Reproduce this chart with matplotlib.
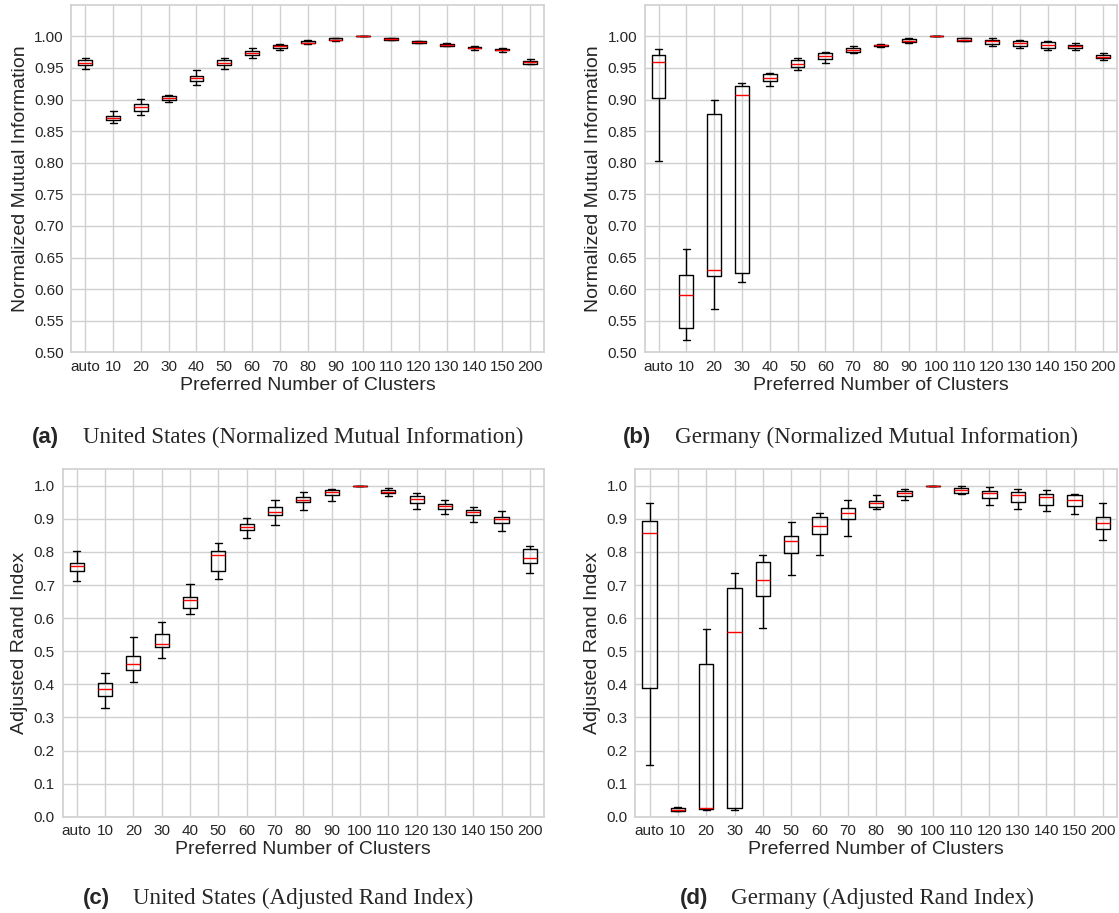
import matplotlib
matplotlib.use("Agg")
import matplotlib.pyplot as plt
import seaborn as sns
import numpy as np

categories = ["auto", "10", "20", "30", "40", "50", "60", "70", "80", "90",
              "100", "110", "120", "130", "140", "150", "200"]

# (a) United States NMI
us_nmi_med = [0.958, 0.871, 0.888, 0.903, 0.934, 0.958, 0.974, 0.984, 0.990, 0.995, 1.0, 0.996, 0.991, 0.987, 0.982, 0.979, 0.959]
us_nmi_q1  = [0.955, 0.868, 0.882, 0.900, 0.930, 0.954, 0.971, 0.982, 0.989, 0.994, 1.0, 0.995, 0.990, 0.985, 0.981, 0.978, 0.957]
us_nmi_q3  = [0.962, 0.874, 0.893, 0.905, 0.937, 0.962, 0.977, 0.986, 0.992, 0.997, 1.0, 0.997, 0.992, 0.988, 0.983, 0.980, 0.961]
us_nmi_lo  = [0.948, 0.863, 0.876, 0.896, 0.923, 0.948, 0.966, 0.979, 0.988, 0.993, 1.0, 0.994, 0.989, 0.984, 0.979, 0.976, 0.956]
us_nmi_hi  = [0.966, 0.882, 0.901, 0.907, 0.946, 0.966, 0.981, 0.988, 0.994, 0.997, 1.0, 0.998, 0.993, 0.989, 0.984, 0.981, 0.964]

# (b) Germany NMI
de_nmi_med = [0.960, 0.590, 0.630, 0.907, 0.934, 0.957, 0.969, 0.978, 0.986, 0.993, 1.0, 0.995, 0.992, 0.990, 0.987, 0.984, 0.968]
de_nmi_q1  = [0.902, 0.538, 0.620, 0.625, 0.929, 0.952, 0.964, 0.975, 0.984, 0.991, 1.0, 0.993, 0.988, 0.985, 0.982, 0.981, 0.966]
de_nmi_q3  = [0.971, 0.622, 0.877, 0.922, 0.940, 0.962, 0.974, 0.981, 0.987, 0.996, 1.0, 0.997, 0.995, 0.993, 0.991, 0.987, 0.970]
de_nmi_lo  = [0.802, 0.519, 0.569, 0.612, 0.921, 0.947, 0.958, 0.973, 0.983, 0.990, 1.0, 0.992, 0.985, 0.982, 0.979, 0.978, 0.963]
de_nmi_hi  = [0.980, 0.664, 0.899, 0.926, 0.942, 0.966, 0.976, 0.985, 0.988, 0.997, 1.0, 0.998, 0.997, 0.995, 0.993, 0.989, 0.974]

# (c) United States ARI
us_ari_med = [0.757, 0.385, 0.461, 0.522, 0.654, 0.790, 0.875, 0.920, 0.958, 0.980, 1.0, 0.982, 0.960, 0.939, 0.921, 0.899, 0.782]
us_ari_q1  = [0.742, 0.366, 0.442, 0.512, 0.632, 0.744, 0.866, 0.912, 0.950, 0.972, 1.0, 0.977, 0.948, 0.931, 0.912, 0.887, 0.768]
us_ari_q3  = [0.766, 0.404, 0.485, 0.553, 0.663, 0.803, 0.884, 0.937, 0.967, 0.987, 1.0, 0.988, 0.970, 0.946, 0.927, 0.907, 0.808]
us_ari_lo  = [0.712, 0.327, 0.408, 0.481, 0.613, 0.719, 0.842, 0.881, 0.927, 0.955, 1.0, 0.968, 0.931, 0.916, 0.892, 0.864, 0.736]
us_ari_hi  = [0.803, 0.434, 0.543, 0.588, 0.702, 0.828, 0.903, 0.957, 0.981, 0.991, 1.0, 0.994, 0.979, 0.957, 0.935, 0.924, 0.817]

# (d) Germany ARI
de_ari_med = [0.858, 0.021, 0.027, 0.557, 0.716, 0.834, 0.879, 0.917, 0.948, 0.977, 1.0, 0.988, 0.977, 0.973, 0.966, 0.958, 0.889]
de_ari_q1  = [0.389, 0.018, 0.022, 0.027, 0.667, 0.798, 0.855, 0.899, 0.937, 0.970, 1.0, 0.979, 0.962, 0.952, 0.942, 0.939, 0.868]
de_ari_q3  = [0.895, 0.027, 0.460, 0.690, 0.770, 0.849, 0.907, 0.933, 0.955, 0.985, 1.0, 0.992, 0.985, 0.982, 0.975, 0.971, 0.907]
de_ari_lo  = [0.155, 0.017, 0.019, 0.020, 0.571, 0.729, 0.790, 0.847, 0.930, 0.958, 1.0, 0.974, 0.942, 0.929, 0.925, 0.916, 0.835]
de_ari_hi  = [0.948, 0.028, 0.568, 0.736, 0.790, 0.891, 0.918, 0.957, 0.973, 0.990, 1.0, 0.999, 0.997, 0.990, 0.988, 0.976, 0.947]

x_label = "Preferred Number of Clusters"
nmi_label = "Normalized Mutual Information"
ari_label = "Adjusted Rand Index"
captions = [("(a)", "United States (Normalized Mutual Information)"),
            ("(b)", "Germany (Normalized Mutual Information)"),
            ("(c)", "United States (Adjusted Rand Index)"),
            ("(d)", "Germany (Adjusted Rand Index)")]

sns.set_style("whitegrid")
plt.rcParams["font.family"] = ["Liberation Sans", "DejaVu Sans"]

fig = plt.figure(figsize=(11.19, 9.13), dpi=100)

panels = [
    ([0.0638, 0.6141, 0.4223, 0.3807], us_nmi_med, us_nmi_q1, us_nmi_q3, us_nmi_lo, us_nmi_hi, nmi_label, (0.5, 1.05), 0.05, "%.2f"),
    ([0.5761, 0.6141, 0.4222, 0.3807], de_nmi_med, de_nmi_q1, de_nmi_q3, de_nmi_lo, de_nmi_hi, nmi_label, (0.5, 1.05), 0.05, "%.2f"),
    ([0.0559, 0.1055, 0.4303, 0.3805], us_ari_med, us_ari_q1, us_ari_q3, us_ari_lo, us_ari_hi, ari_label, (0.0, 1.05), 0.1, "%.1f"),
    ([0.5678, 0.1055, 0.4304, 0.3805], de_ari_med, de_ari_q1, de_ari_q3, de_ari_lo, de_ari_hi, ari_label, (0.0, 1.05), 0.1, "%.1f"),
]

for rect, med, q1, q3, lo, hi, ylabel, ylim, step, fmt in panels:
    ax = fig.add_axes(rect)
    stats = []
    for i, c in enumerate(categories):
        stats.append(dict(label=c, med=med[i], q1=q1[i], q3=q3[i],
                          whislo=lo[i], whishi=hi[i], fliers=[]))
    ax.bxp(stats, showfliers=False, widths=0.5,
           boxprops=dict(color="black", linewidth=1.0),
           whiskerprops=dict(color="black", linewidth=1.0),
           capprops=dict(color="black", linewidth=1.0),
           medianprops=dict(color="red", linewidth=1.0))
    ax.set_ylim(*ylim)
    ax.set_yticks(np.arange(ylim[0], 1.0 + step / 2, step))
    ax.yaxis.set_major_formatter(matplotlib.ticker.FormatStrFormatter(fmt))
    ax.set_xlim(0.5, len(categories) + 0.5)
    ax.tick_params(axis="both", labelsize=11, length=0, pad=5.5, colors="#262626")
    ax.set_xlabel(x_label, fontsize=14, color="#262626", labelpad=2)
    ax.set_ylabel(ylabel, fontsize=14, color="#262626", labelpad=4)
    ax.grid(True, color="#d0d0d0", linewidth=1.0)
    for s in ax.spines.values():
        s.set_color("#d0d0d0")
        s.set_linewidth(1.2)

cap_pos = [(32, 83, 437), (623, 675, 437), (83, 133, 898), (680, 731, 898)]
for (lab, txt), (xl, xt, y) in zip(captions, cap_pos):
    fig.text(xl / 1119, 1 - y / 913, lab, fontsize=16, fontweight="bold",
             family="Liberation Sans", va="center", ha="left")
    fig.text(xt / 1119, 1 - y / 913, txt, fontsize=16.6,
             family="Liberation Serif", va="center", ha="left")

fig.savefig("out.png", dpi=100)
